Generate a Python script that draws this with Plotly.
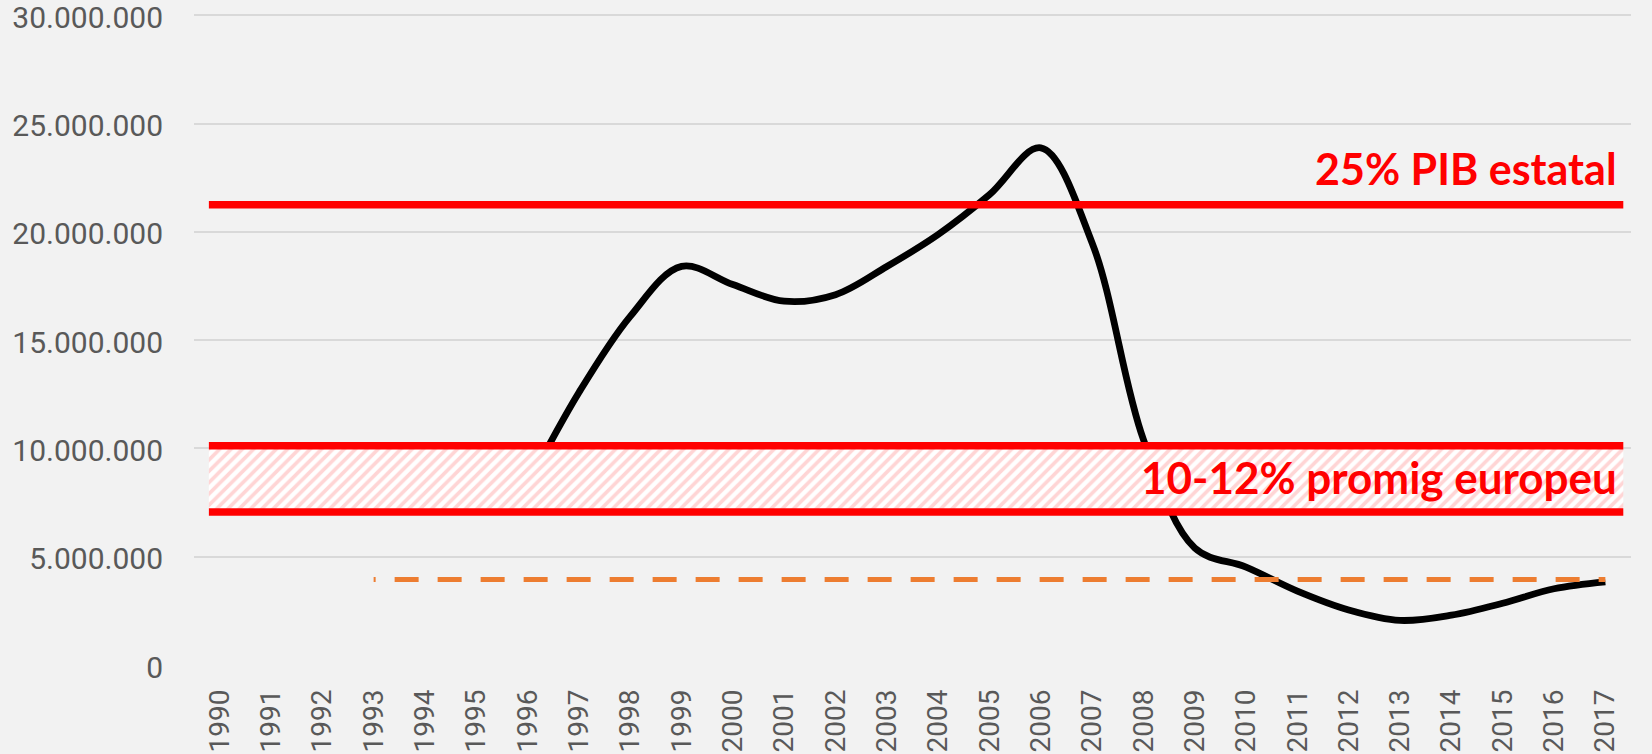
import plotly.graph_objects as go

years = [str(y) for y in range(1990, 2018)]
idx = list(range(len(years)))

# Black series (visible from 1996 on; earlier part hidden under band)
line_years = list(range(1996, 2018))
line_values = [8.3e6, 12.58e6, 16.1e6, 18.41e6, 17.57e6, 16.8e6, 17.1e6, 18.4e6,
               19.88e6, 21.72e6, 23.88e6, 19.49e6, 10.41e6, 5.40e6, 4.52e6,
               3.41e6, 2.54e6, 2.06e6, 2.30e6, 2.85e6, 3.52e6, 3.84e6]

# Orange dashed reference
orange_years = list(range(1993, 2018))
orange_value = 3.95e6

# Reference levels
pib25 = 21.25e6
band_low = 7.06e6
band_high = 10.13e6
ref_x0 = -0.21
ref_x1 = 27.35

y_ticks = [0, 5e6, 10e6, 15e6, 20e6, 25e6, 30e6]
y_ticktext = ["0", "5.000.000", "10.000.000", "15.000.000", "20.000.000", "25.000.000", "30.000.000"]

def yi(y):
    return y - 1990

# dash style: short leading tick, then regular dashes
orange_dash = "2px,19px," + ",".join(["24px,19px"] * 32)

fig = go.Figure()

fig.add_trace(go.Scatter(
    x=[yi(y) for y in line_years], y=line_values, mode="lines",
    line=dict(color="black", width=6.8, shape="spline", smoothing=1.0),
    hoverinfo="skip"))

fig.add_trace(go.Scatter(
    x=[ref_x0, ref_x1, ref_x1, ref_x0, ref_x0],
    y=[band_low, band_low, band_high, band_high, band_low],
    mode="lines", line=dict(width=0), fill="toself", fillcolor="white",
    fillpattern=dict(shape="/", bgcolor="white", fgcolor="#ffd5d5", size=8, solidity=0.45),
    hoverinfo="skip"))

for lvl in [band_high, band_low, pib25]:
    fig.add_trace(go.Scatter(
        x=[ref_x0, ref_x1], y=[lvl, lvl], mode="lines",
        line=dict(color="#ff0000", width=7.5), hoverinfo="skip"))

fig.add_trace(go.Scatter(
    x=[yi(y) for y in orange_years], y=[orange_value] * len(orange_years), mode="lines",
    line=dict(color="#ed7d31", width=5, dash=orange_dash), hoverinfo="skip"))

fig.add_annotation(x=27.27, y=22.95e6, xref="x", yref="y", text="25% PIB estatal",
                   showarrow=False, xanchor="right", yanchor="middle",
                   font=dict(family="Lato", size=43, color="#ff0000", weight="bold"))
fig.add_annotation(x=27.27, y=8.7e6, xref="x", yref="y", text="10-12% promig europeu",
                   showarrow=False, xanchor="right", yanchor="middle",
                   font=dict(family="Lato", size=44, color="#ff0000", weight="bold"))

fig.update_layout(
    template="none",
    width=1652, height=754,
    margin=dict(l=194, r=21, t=11.4, b=88.5),
    paper_bgcolor="#f2f2f2", plot_bgcolor="#f2f2f2",
    showlegend=False,
    xaxis=dict(range=[-0.5, 27.5], tickvals=idx, ticktext=years, tickangle=-90,
               showgrid=False, zeroline=False, showline=False, ticks="",
               automargin=False, ticklabeloverflow="allow",
               tickfont=dict(family="Roboto", size=28, color="#595959"),
               ticklabelstandoff=18),
    yaxis=dict(range=[0, 30.2e6], tickvals=y_ticks, ticktext=y_ticktext,
               showgrid=True, gridcolor="#d9d9d9", gridwidth=1.5,
               zeroline=False, showline=False, ticks="",
               automargin=False, ticklabeloverflow="allow",
               tickfont=dict(family="Roboto", size=30, color="#595959"),
               ticklabelstandoff=30, ticklabelshift=2),
)

fig.write_html("out.html", config={"displayModeBar": False},
               post_script="document.body.style.margin='0';")
